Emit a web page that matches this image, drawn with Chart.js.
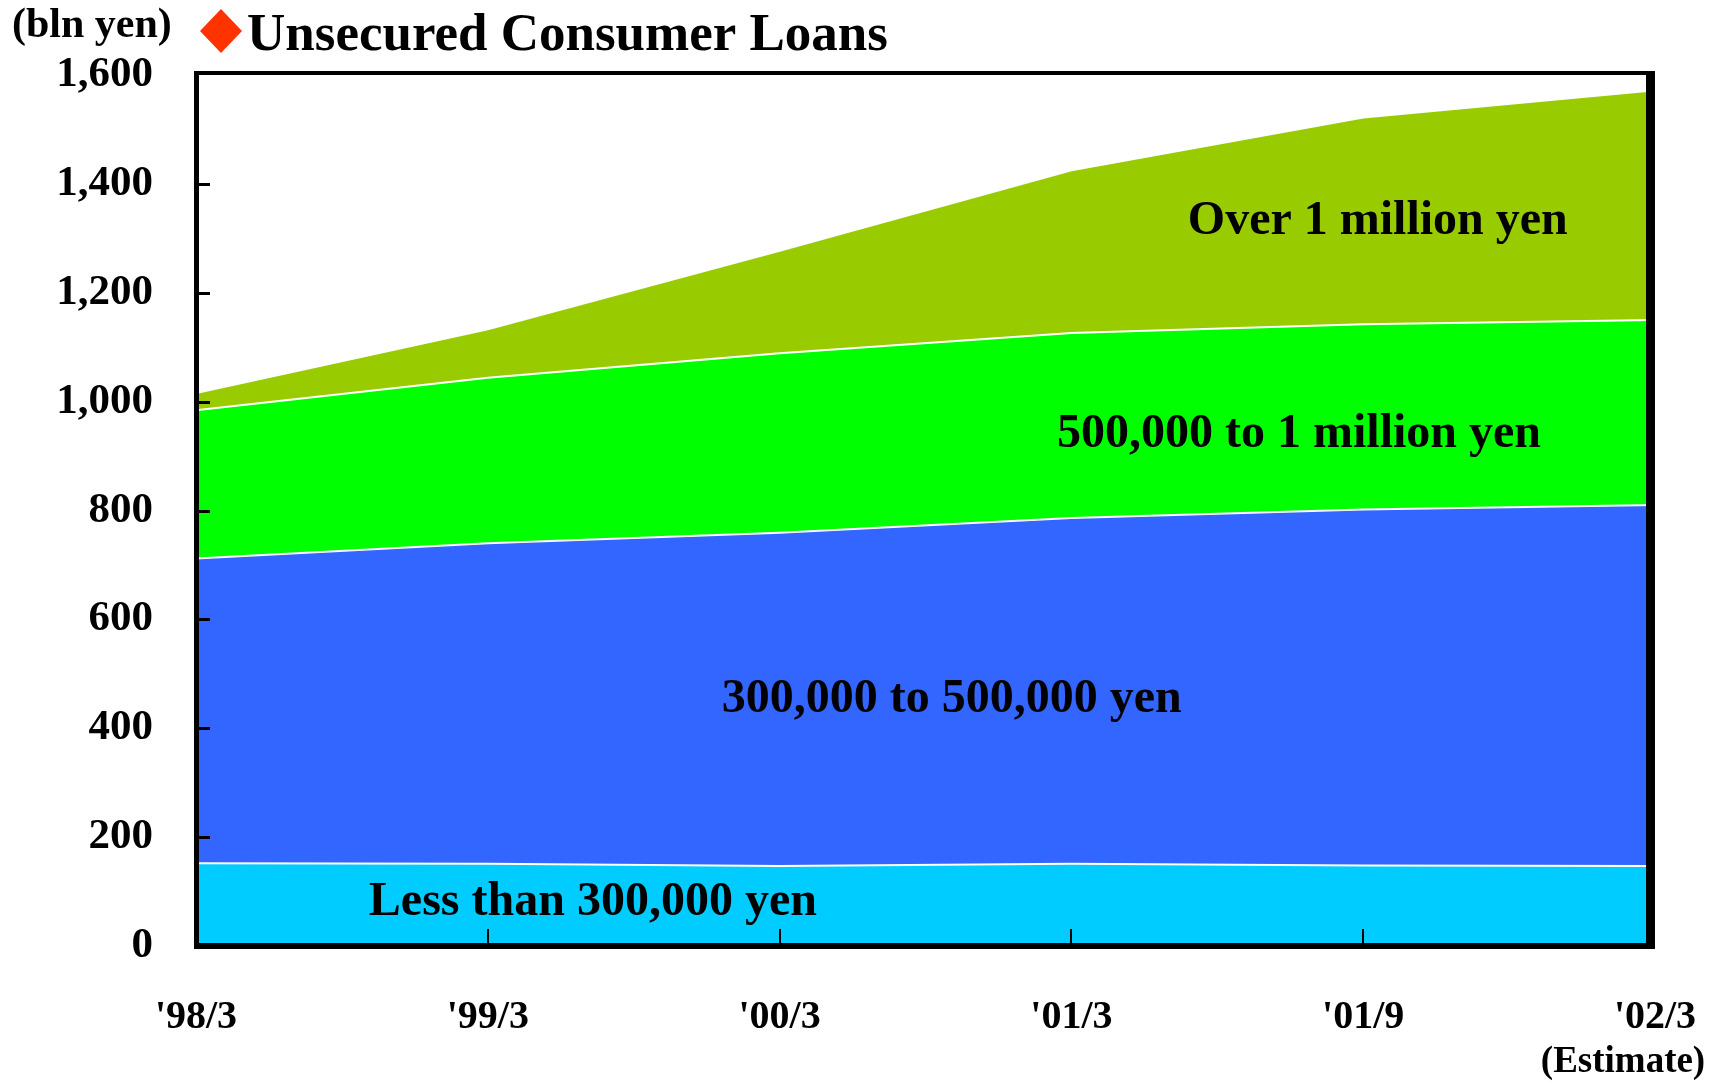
<!DOCTYPE html>
<html>
<head>
<meta charset="utf-8">
<script src="https://cdn.jsdelivr.net/npm/chart.js@4/dist/chart.umd.min.js"></script>
<style>
  html, body { margin: 0; padding: 0; background: #ffffff; }
  #c { display: block; }
</style>
</head>
<body>
<canvas id="c" width="1713" height="1082"></canvas>
<script>
// periods (x axis)
const periods = ["'98/3", "'99/3", "'00/3", "'01/3", "'01/9", "'02/3"]

// balances by loan size, bln yen (stacked)
const lessThan300k = [152, 151, 147, 151, 148, 147]
const from300kTo500k = [560, 589, 612, 635, 654, 663]
const from500kTo1m = [272, 304, 330, 340, 340, 340]
const over1m = [32, 89, 188, 299, 380, 422]

// y axis ticks
const yTicks = [0, 200, 400, 600, 800, 1000, 1200, 1400, 1600]

// in-chart series labels: [text, x index, y value]
const areaLabels = [
  ['Over 1 million yen', 4.05, 1331],
  ['500,000 to 1 million yen', 3.78, 940],
  ['300,000 to 500,000 yen', 2.59, 452],
  ['Less than 300,000 yen', 1.36, 79]
]

const SERIF = "'Liberation Serif', 'Times New Roman', serif"

function area(label, data, color, fill) {
  return {
    label, data, fill,
    backgroundColor: color,
    borderColor: '#ffffff',
    borderWidth: 2,
    pointRadius: 0,
    tension: 0
  }
}

// titles, frame, inner tick marks, series labels
const decor = {
  id: 'decor',
  afterDatasetsDraw(chart) {
    const ctx = chart.ctx
    const x = chart.scales.x, y = chart.scales.y
    const a = chart.chartArea
    ctx.save()
    ctx.fillStyle = '#000'

    // inner tick marks
    ctx.strokeStyle = '#000'
    ctx.lineWidth = 3
    yTicks.slice(1, -1).forEach(v => {
      const py = Math.round(y.getPixelForValue(v)) + 0.5
      ctx.beginPath(); ctx.moveTo(a.left, py); ctx.lineTo(a.left + 14, py); ctx.stroke()
    })
    ctx.lineWidth = 2
    periods.slice(1, -1).forEach((p, i) => {
      const px = Math.round(x.getPixelForValue(i + 1))
      ctx.beginPath(); ctx.moveTo(px, a.bottom); ctx.lineTo(px, a.bottom - 17); ctx.stroke()
    })

    // frame (heavier on right and bottom)
    const top = a.top - 4
    ctx.fillRect(a.left - 2, top, 5, a.bottom - top + 3)
    ctx.fillRect(a.left - 2, top, a.right - a.left + 2, 4)
    ctx.fillRect(a.right - 9, top, 9, a.bottom - top + 3)
    ctx.fillRect(a.left - 2, a.bottom - 3, a.right - a.left + 2, 6)

    // series labels
    ctx.font = 'bold 48px ' + SERIF
    ctx.textAlign = 'center'
    ctx.textBaseline = 'middle'
    areaLabels.forEach(([t, xi, v]) => {
      const px = a.left + (x.getPixelForValue(1) - x.getPixelForValue(0)) * xi
      ctx.fillText(t, px, y.getPixelForValue(v))
    })

    // (Estimate) under the last period
    ctx.font = 'bold 37px ' + SERIF
    ctx.fillText('(Estimate)', x.getPixelForValue(5) - 32, 1062)

    // unit + title
    ctx.textAlign = 'left'
    ctx.textBaseline = 'alphabetic'
    ctx.font = 'bold 42px ' + SERIF
    ctx.fillText('(bln yen)', 12, 37)
    ctx.fillStyle = '#ff3300'
    ctx.beginPath()
    ctx.moveTo(221, 9); ctx.lineTo(242, 31); ctx.lineTo(221, 53); ctx.lineTo(200, 31)
    ctx.closePath(); ctx.fill()
    ctx.fillStyle = '#000'
    ctx.font = 'bold 53px ' + SERIF
    ctx.fillText('Unsecured Consumer Loans', 247, 50)
    ctx.restore()
  }
}

new Chart(document.getElementById('c'), {
  type: 'line',
  data: {
    labels: periods,
    datasets: [
      area('Less than 300,000 yen', lessThan300k, '#00ccff', 'origin'),
      area('300,000 to 500,000 yen', from300kTo500k, '#3366ff', '-1'),
      area('500,000 to 1 million yen', from500kTo1m, '#00ff00', '-1'),
      area('Over 1 million yen', over1m, '#99cc00', '-1')
    ]
  },
  options: {
    responsive: false,
    animation: false,
    layout: { padding: { top: 75, right: 58, left: 0, bottom: 0 } },
    plugins: { legend: { display: false }, tooltip: { enabled: false } },
    scales: {
      x: {
        type: 'category',
        offset: false,
        grid: { display: false, drawTicks: false },
        border: { display: false },
        ticks: {
          color: '#000', padding: 48, maxRotation: 0, autoSkip: false,
          font: { family: SERIF, size: 40, weight: 'bold' }
        },
        afterFit(s) {
          s.height = 136
          s.paddingLeft = 0
          s.paddingRight = 0
        }
      },
      y: {
        stacked: true,
        min: 0, max: 1600,
        grid: { display: false, drawTicks: false },
        border: { display: false },
        ticks: {
          stepSize: 200, color: '#000', padding: 43,
          font: { family: SERIF, size: 43, weight: 'bold' },
          callback: v => v.toLocaleString('en-US')
        },
        afterFit(s) { s.width = 196 }
      }
    }
  },
  plugins: [decor]
})
</script>
</body>
</html>
